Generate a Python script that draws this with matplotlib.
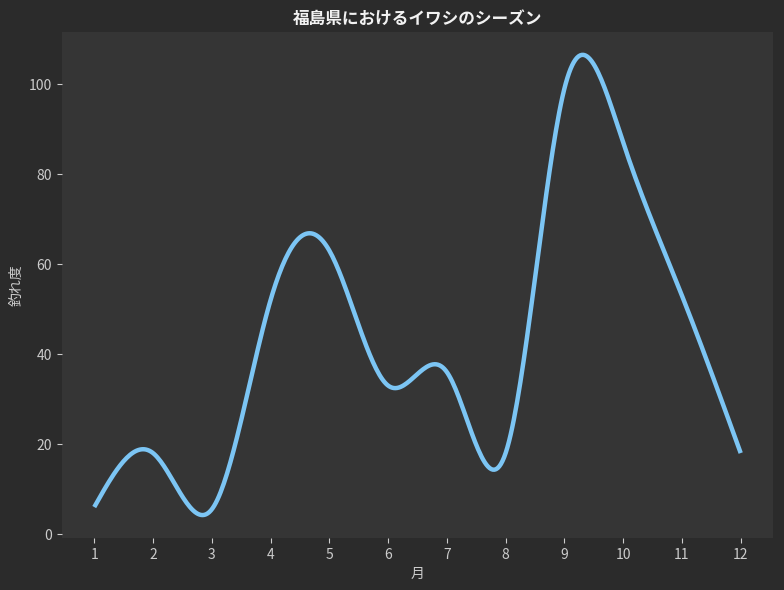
import numpy as np
import matplotlib
matplotlib.use("Agg")
from matplotlib import pyplot as plt

plt.rcParams['font.family'] = ['Noto Sans CJK JP', 'DejaVu Sans']

months = [1, 2, 3, 4, 5, 6, 7, 8, 9, 10, 11, 12]
catch = [6, 18, 5.5, 52, 63, 33, 36, 18, 99, 87, 53, 18]

title = "福島県におけるイワシのシーズン"
xlabel = "月"
ylabel = "釣れ度"


def smooth(x, y, n=400):
    # natural cubic spline, only used to draw the line smoothly
    x = np.asarray(x, float)
    y = np.asarray(y, float)
    k = len(x)
    h = np.diff(x)
    A = np.zeros((k, k))
    b = np.zeros(k)
    A[0, 0] = 1
    A[-1, -1] = 1
    for i in range(1, k - 1):
        A[i, i - 1] = h[i - 1]
        A[i, i] = 2 * (h[i - 1] + h[i])
        A[i, i + 1] = h[i]
        b[i] = 6 * ((y[i + 1] - y[i]) / h[i] - (y[i] - y[i - 1]) / h[i - 1])
    M = np.linalg.solve(A, b)
    xs = np.linspace(x[0], x[-1], n)
    idx = np.clip(np.searchsorted(x, xs) - 1, 0, k - 2)
    hi = h[idx]
    a = x[idx + 1] - xs
    c = xs - x[idx]
    ys = (M[idx] * a**3 / (6 * hi) + M[idx + 1] * c**3 / (6 * hi)
          + (y[idx] / hi - M[idx] * hi / 6) * a
          + (y[idx + 1] / hi - M[idx + 1] * hi / 6) * c)
    return xs, ys


fig = plt.figure(figsize=(7.84, 5.9), dpi=100, facecolor='#2b2b2b')
ax = fig.add_axes([0.079, 0.088, 0.907, 0.858])
ax.set_facecolor('#353535')

xs, ys = smooth(months, catch)
ax.plot(xs, ys, color='#7cc5f4', linewidth=3.2, solid_capstyle='butt')

ax.set_xticks(months)
ax.set_title(title, color='#f2f2f2', fontsize=12, fontweight='bold', pad=6)
ax.set_xlabel(xlabel, color='#cccccc', fontsize=10)
ax.set_ylabel(ylabel, color='#cccccc', fontsize=10)
ax.tick_params(colors='#cccccc', labelsize=10)
for s in ax.spines.values():
    s.set_visible(False)

fig.savefig("out.png", dpi=100, facecolor=fig.get_facecolor())
